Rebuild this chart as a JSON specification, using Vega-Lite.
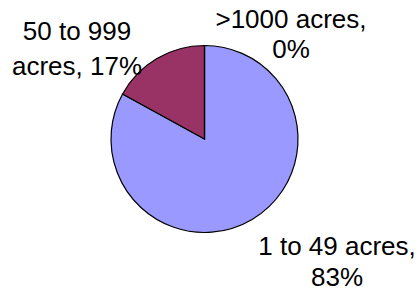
{
  "$schema": "https://vega.github.io/schema/vega-lite/v6.json",
  "width": 409,
  "height": 278,
  "autosize": "none",
  "padding": {"left": 0, "right": 11, "top": 0, "bottom": 16},
  "background": "white",
  "view": {"stroke": null},
  "data": {
    "values": [
      {"category": "1 to 49 acres", "pct": 83, "idx": 1, "label": "1 to 49 acres,\n83%"},
      {"category": "50 to 999 acres", "pct": 17, "idx": 2, "label": "50 to 999\nacres, 17%"},
      {"category": ">1000 acres", "pct": 0, "idx": 3, "label": ">1000 acres,\n0%"}
    ]
  },
  "encoding": {
    "theta": {"field": "pct", "type": "quantitative", "stack": true},
    "order": {"field": "idx", "type": "quantitative"}
  },
  "layer": [
    {
      "mark": {"type": "arc", "outerRadius": 93.5, "stroke": "black", "strokeWidth": 1.2},
      "encoding": {
        "color": {
          "field": "category",
          "type": "nominal",
          "scale": {"domain": ["1 to 49 acres", "50 to 999 acres", ">1000 acres"], "range": ["#9999FF", "#993366", "#FFFFCC"]},
          "legend": null
        }
      }
    },
    {
      "mark": {"type": "text", "radius": 110, "dx": 76.5, "dy": 13, "font": "Liberation Sans", "fontSize": 26, "lineHeight": 31.5, "lineBreak": "\n", "align": "center", "baseline": "middle", "color": "black"},
      "encoding": {"text": {"condition": {"test": "datum.idx == 1", "field": "label"}, "value": ""}}
    },
    {
      "mark": {"type": "text", "radius": 110, "dx": -71.5, "dy": -12, "font": "Liberation Sans", "fontSize": 26, "lineHeight": 35, "lineBreak": "\n", "align": "center", "baseline": "middle", "color": "black"},
      "encoding": {"text": {"condition": {"test": "datum.idx == 2", "field": "label"}, "value": ""}}
    },
    {
      "mark": {"type": "text", "radius": 110, "dx": 86.5, "dy": -9, "font": "Liberation Sans", "fontSize": 26, "lineHeight": 30, "lineBreak": "\n", "align": "center", "baseline": "middle", "color": "black"},
      "encoding": {"text": {"condition": {"test": "datum.idx == 3", "field": "label"}, "value": ""}}
    }
  ]
}
